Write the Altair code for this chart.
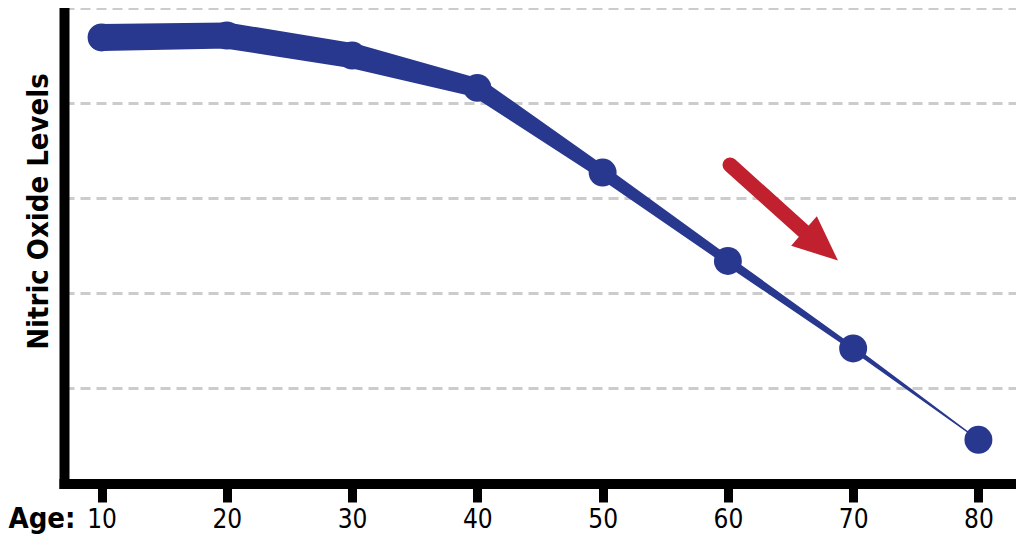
import altair as alt
import pandas as pd

# Data
ages = [10, 20, 30, 40, 50, 60, 70, 80]
levels = [4.69, 4.71, 4.50, 4.16, 3.27, 2.34, 1.42, 0.46]
grid_levels = [1, 2, 3, 4, 5]

# Annotation arrow (data units)
arrow_age = [60.17, 66.08]
arrow_level = [3.35, 2.65]
head_age = [67.43]
head_level = [2.50]

NAVY = "#28388E"
RED = "#C1202F"
FONT = '"DejaVu Sans Condensed", "Liberation Sans Narrow", sans-serif'

df = pd.DataFrame({"age": ages, "level": levels})
arrow_df = pd.DataFrame({"age": arrow_age, "level": arrow_level})
head_df = pd.DataFrame({"age": head_age, "level": head_level})

x_enc = alt.X(
    "age:Q",
    scale=alt.Scale(domain=[7, 83], nice=False, zero=False),
    axis=alt.Axis(
        values=ages,
        title="Age:",
        titleX=-56,
        titleY=43.5,
        titleAlign="left",
        titleBaseline="alphabetic",
        titleFont=FONT,
        titleFontSize=29,
        titleFontWeight="bold",
        titleColor="black",
        labelFont=FONT,
        labelFontSize=26,
        labelColor="black",
        labelPadding=25,
        labelBaseline="alphabetic",
        labelFlush=False,
        tickSize=18.5,
        tickWidth=9,
        tickColor="black",
        domainColor="black",
        domainWidth=10,
        domainCap="square",
        grid=False,
    ),
)

y_enc = alt.Y(
    "level:Q",
    scale=alt.Scale(domain=[0, 5], nice=False, zero=True),
    axis=alt.Axis(
        values=grid_levels,
        labels=False,
        ticks=False,
        grid=True,
        gridDash=[10, 6],
        gridColor="#cccccc",
        gridWidth=3,
        domainColor="black",
        domainWidth=10,
        domainCap="square",
        title="Nitric Oxide Levels",
        titleAngle=270,
        titleX=-17,
        titleY=203,
        titleAlign="center",
        titleBaseline="alphabetic",
        titleFont=FONT,
        titleFontSize=29,
        titleFontWeight="bold",
        titleColor="black",
    ),
)

trail = alt.Chart(df).mark_trail(color=NAVY).encode(
    x=x_enc,
    y=y_enc,
    size=alt.Size(
        "age:Q",
        scale=alt.Scale(domain=[10, 30, 50, 80], range=[27, 25, 13, 1]),
        legend=None,
    ),
)

points = alt.Chart(df).mark_circle(color=NAVY, size=780, opacity=1).encode(
    x=x_enc, y=y_enc
)

shaft = alt.Chart(arrow_df).mark_line(
    color=RED, strokeWidth=15, strokeCap="round"
).encode(x=x_enc, y=y_enc)

head = alt.Chart(head_df).mark_point(
    shape="M1,0 L-1,-0.87 L-1,0.87 Z",
    size=2025,
    angle=41,
    filled=True,
    color=RED,
    opacity=1,
).encode(x=x_enc, y=y_enc)

chart = (
    alt.layer(trail, points, shaft, head)
    .properties(
        width=952,
        height=475.5,
        padding={"left": 56, "top": 0, "right": 0, "bottom": 54},
        autosize=alt.AutoSizeParams(type="none"),
        background="white",
    )
    .configure_view(stroke=None)
)

chart.save("out.html", embed_options={"renderer": "svg", "actions": False})
